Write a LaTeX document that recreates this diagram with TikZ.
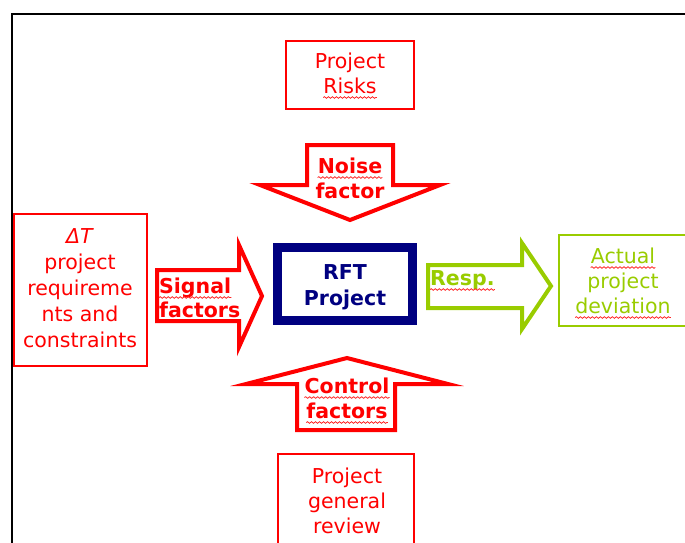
\documentclass[tikz,border=0pt]{standalone}
\usepackage{fontspec}
\setmainfont{DejaVu Sans}
\usetikzlibrary{decorations.pathmorphing}
\definecolor{tred}{HTML}{FF0000}
\definecolor{tgreen}{HTML}{99CC00}
\definecolor{tnavy}{HTML}{000080}
\tikzset{
  txt/.style={inner sep=0pt, anchor=base, font=\fontsize{20.5}{25}\selectfont},
  rtxt/.style={txt, text=tred},
  btxt/.style={txt, font=\fontsize{20.5}{25}\selectfont\bfseries},
  thinbox/.style={line width=2pt},
  blockarrow/.style={line width=4pt, line join=miter, miter limit=12},
  squig/.style={draw=tred!85, line width=0.8pt, decorate,
    decoration={snake, amplitude=0.8pt, segment length=4pt}},
}
\newcommand\squnder[1]{\draw[squig] ([yshift=-4.5pt]#1.base west) -- ([yshift=-4.5pt]#1.base east);}
\begin{document}
\begin{tikzpicture}[x=1pt,y=-1pt]
\useasboundingbox (0,0) rectangle (685,542);
\clip (0,0) rectangle (685,542);

% outer frame
\draw[line width=2pt] (12,560) -- (12,13.5) -- (700,13.5);

% boxes
\draw[thinbox, tred] (286,40.5) rectangle (414,109);
\draw[thinbox, tred] (14,214) rectangle (147,366);
\draw[line width=9pt, tnavy] (277.5,247.5) rectangle (412.5,320.5);
\draw[thinbox, tgreen] (559,235) rectangle (700,326);
\draw[thinbox, tred] (278,454) rectangle (414,560);

% block arrows
\draw[blockarrow, tred] (307,145) -- (393,145) -- (393,185) -- (440,185) -- (350,220)
  -- (260,185) -- (307,185) -- cycle;
\draw[blockarrow, tred] (157,270) -- (239,270) -- (239,245) -- (262,296) -- (239,347)
  -- (239,321) -- (157,321) -- cycle;
\draw[blockarrow, tgreen] (428,265) -- (522,265) -- (522,243) -- (551,286) -- (522,329)
  -- (522,308) -- (428,308) -- cycle;
\draw[blockarrow, tred] (297,430) -- (297,384) -- (246,384) -- (347,358) -- (448,384)
  -- (395,384) -- (395,430) -- cycle;

% Project Risks
\node[rtxt] (risks1) at (350,68) {Project};
\node[rtxt] (risks2) at (350,93) {Risks};
\squnder{risks2}

% Noise factor
\node[btxt, text=tred] (noise1) at (350,173) {Noise};
\node[btxt, text=tred] (noise2) at (350,198) {factor};
\squnder{noise1}

% requirements box
\node[rtxt] (req1) at (80,243) {\textit{ΔT}};
\node[rtxt] (req2) at (80,269) {project};
\node[rtxt] (req3) at (80,295) {requireme};
\node[rtxt] (req4) at (80,321) {nts and};
\node[rtxt] (req5) at (80,347) {constraints};

% Signal factors
\node[btxt, text=tred, anchor=base west] (sig1) at (159,293) {Signal};
\node[btxt, text=tred, anchor=base west] (sig2) at (159,317) {factors};
\squnder{sig1}

% RFT Project
\node[btxt, text=tnavy] (rft1) at (345,279) {RFT};
\node[btxt, text=tnavy] (rft2) at (345,305) {Project};

% Resp.
\node[btxt, text=tgreen, anchor=base west] (resp) at (430,285) {Resp.};
\squnder{resp}

% Actual project deviation
\node[txt, text=tgreen] (dev1) at (623,263) {Actual};
\node[txt, text=tgreen] (dev2) at (623,288) {project};
\node[txt, text=tgreen] (dev3) at (623,313) {deviation};
\squnder{dev1}
\squnder{dev3}

% Control factors
\node[btxt, text=tred] (ctl1) at (347,393) {Control};
\node[btxt, text=tred] (ctl2) at (347,418) {factors};
\squnder{ctl1}
\squnder{ctl2}

% Project general review
\node[rtxt] (rev1) at (347,483) {Project};
\node[rtxt] (rev2) at (347,508) {general};
\node[rtxt] (rev3) at (347,533) {review};
\end{tikzpicture}
\end{document}
